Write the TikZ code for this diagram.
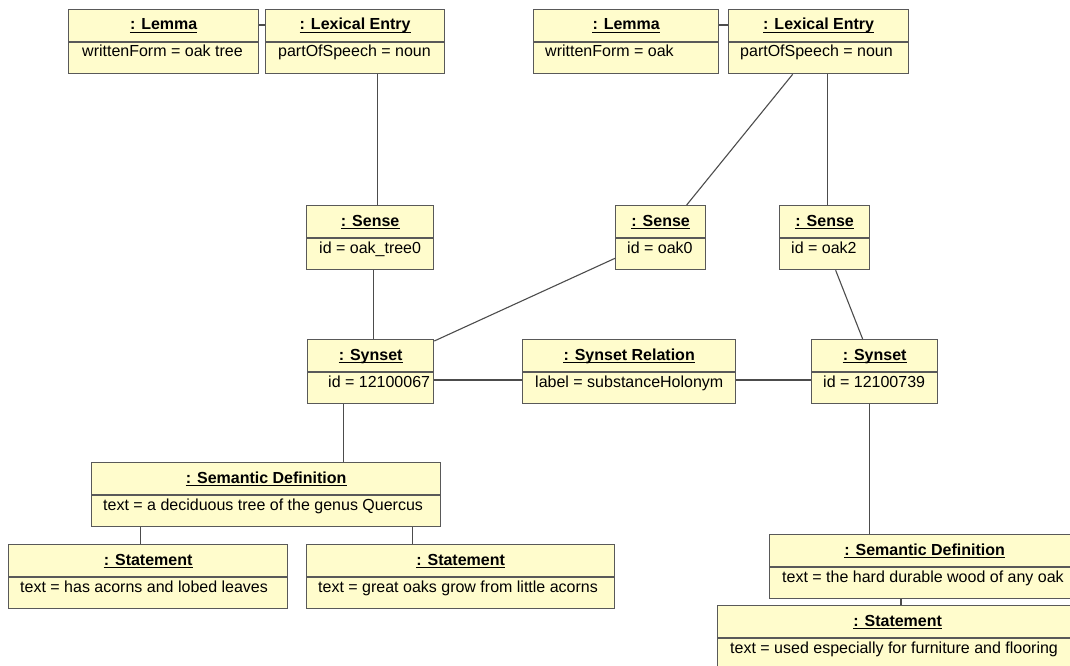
\documentclass[tikz,border=0pt]{standalone}
\usepackage{fontspec}
\setmainfont{Liberation Sans}
\usepackage{tikz}
\colorlet{objfill}{yellow!20}
\colorlet{objedge}{black!65}
\colorlet{linkgray}{black!70}

\begin{document}
\begin{tikzpicture}[x=1pt,y=-1pt,
        objbox/.style={draw=objedge, fill=objfill, line width=1.3pt, minimum height=64pt, inner sep=0pt, anchor=north west},
        hdr/.style={inner sep=0pt, anchor=base, font=\fontsize{16}{19}\selectfont\bfseries},
        attr/.style={inner sep=0pt, anchor=base west, font=\fontsize{16}{19}\selectfont},
        link/.style={draw=linkgray, line width=1.1pt}]
        \useasboundingbox (0,0) rectangle (1070,666);
        \clip (0,0) rectangle (1070,666);
        \foreach \n/\l/\t/\w/\ix/\hd/\at in {
            lem1/68/9/190/14/{: Lemma}/{writtenForm = oak tree},
            lex1/265/9/179/13/{: Lexical Entry}/{partOfSpeech = noun},
            lem2/533/9/185/12/{: Lemma}/{writtenForm = oak},
            lex2/728/9/180/12/{: Lexical Entry}/{partOfSpeech = noun},
            sen1/306/205/127/13/{: Sense}/{id = oak\_tree0},
            sen2/615/205/90/12/{: Sense}/{id = oak0},
            sen3/779/205/90/12/{: Sense}/{id = oak2},
            syn1/307/339/126/21/{: Synset}/{id = 12100067},
            rel/522/339/213/13/{: Synset Relation}/{label = substanceHolonym},
            syn2/811/339/126/12/{: Synset}/{id = 12100739},
            def1/91/462/349/12/{: Semantic Definition}/{text = a deciduous tree of the genus Quercus},
            st1/8/544/279/12/{: Statement}/{text = has acorns and lobed leaves},
            st2/306/544/308/12/{: Statement}/{text = great oaks grow from little acorns},
            def2/769/534/310/13/{: Semantic Definition}/{text = the hard durable wood of any oak},
            st3/717/605/360/13/{: Statement}/{text = used especially for furniture and flooring}}{
            \node[objbox, minimum width=\w pt] (\n) at (\l,\t) {};
            \draw[objedge, line width=1.3pt] ([yshift=-33pt]\n.north west) -- ([yshift=-33pt]\n.north east);
            \node[hdr] (\n-h) at ([yshift=-21pt]\n.north) {\hd};
            \draw[line width=1.1pt] ([yshift=-2.5pt]\n-h.base west) -- ([yshift=-2.5pt]\n-h.base east);
            \node[attr] at ([xshift=\ix pt, yshift=-48pt]\n.north west) {\at};
        }
        % lexical side
        \draw[link] ([yshift=-16pt]lem1.north east) -- ([yshift=-16pt]lex1.north west);
        \draw[link] ([yshift=-16pt]lem2.north east) -- ([yshift=-16pt]lex2.north west);
        \draw[link] ([xshift=7pt]sen1.north) -- ([xshift=7pt]sen1.north |- lex1.south);
        \draw[link] ([xshift=-26pt]lex2.south) -- ([xshift=26pt]sen2.north);
        \draw[link] ([xshift=3pt]sen3.north) -- ([xshift=3pt]sen3.north |- lex2.south);
        % senses to synsets
        \draw[link] ([xshift=3pt]sen1.south) -- ([xshift=3pt]sen1.south |- syn1.north);
        \draw[link] ([yshift=12pt]sen2.south west) -- ([yshift=-2pt]syn1.north east);
        \draw[link] ([xshift=11pt]sen3.south) -- ([xshift=-12pt]syn2.north);
        \draw[link] ([yshift=-41pt]syn1.north east) -- ([yshift=-41pt]rel.north west);
        \draw[link] ([yshift=-41pt]rel.north east) -- ([yshift=-41pt]syn2.north west);
        % definitions and statements
        \draw[link] ([xshift=-27pt]syn1.south) -- ([xshift=-27pt]syn1.south |- def1.north);
        \draw[link] ([xshift=-8pt]st1.north) -- ([xshift=-8pt]st1.north |- def1.south);
        \draw[link] ([xshift=-48pt]st2.north) -- ([xshift=-48pt]st2.north |- def1.south);
        \draw[link] ([xshift=-5pt]syn2.south) -- ([xshift=-5pt]syn2.south |- def2.north);
        \draw[link] ([xshift=184pt]st3.north west) -- ([xshift=184pt]st3.north west |- def2.south);
    \end{tikzpicture}
\end{document}
